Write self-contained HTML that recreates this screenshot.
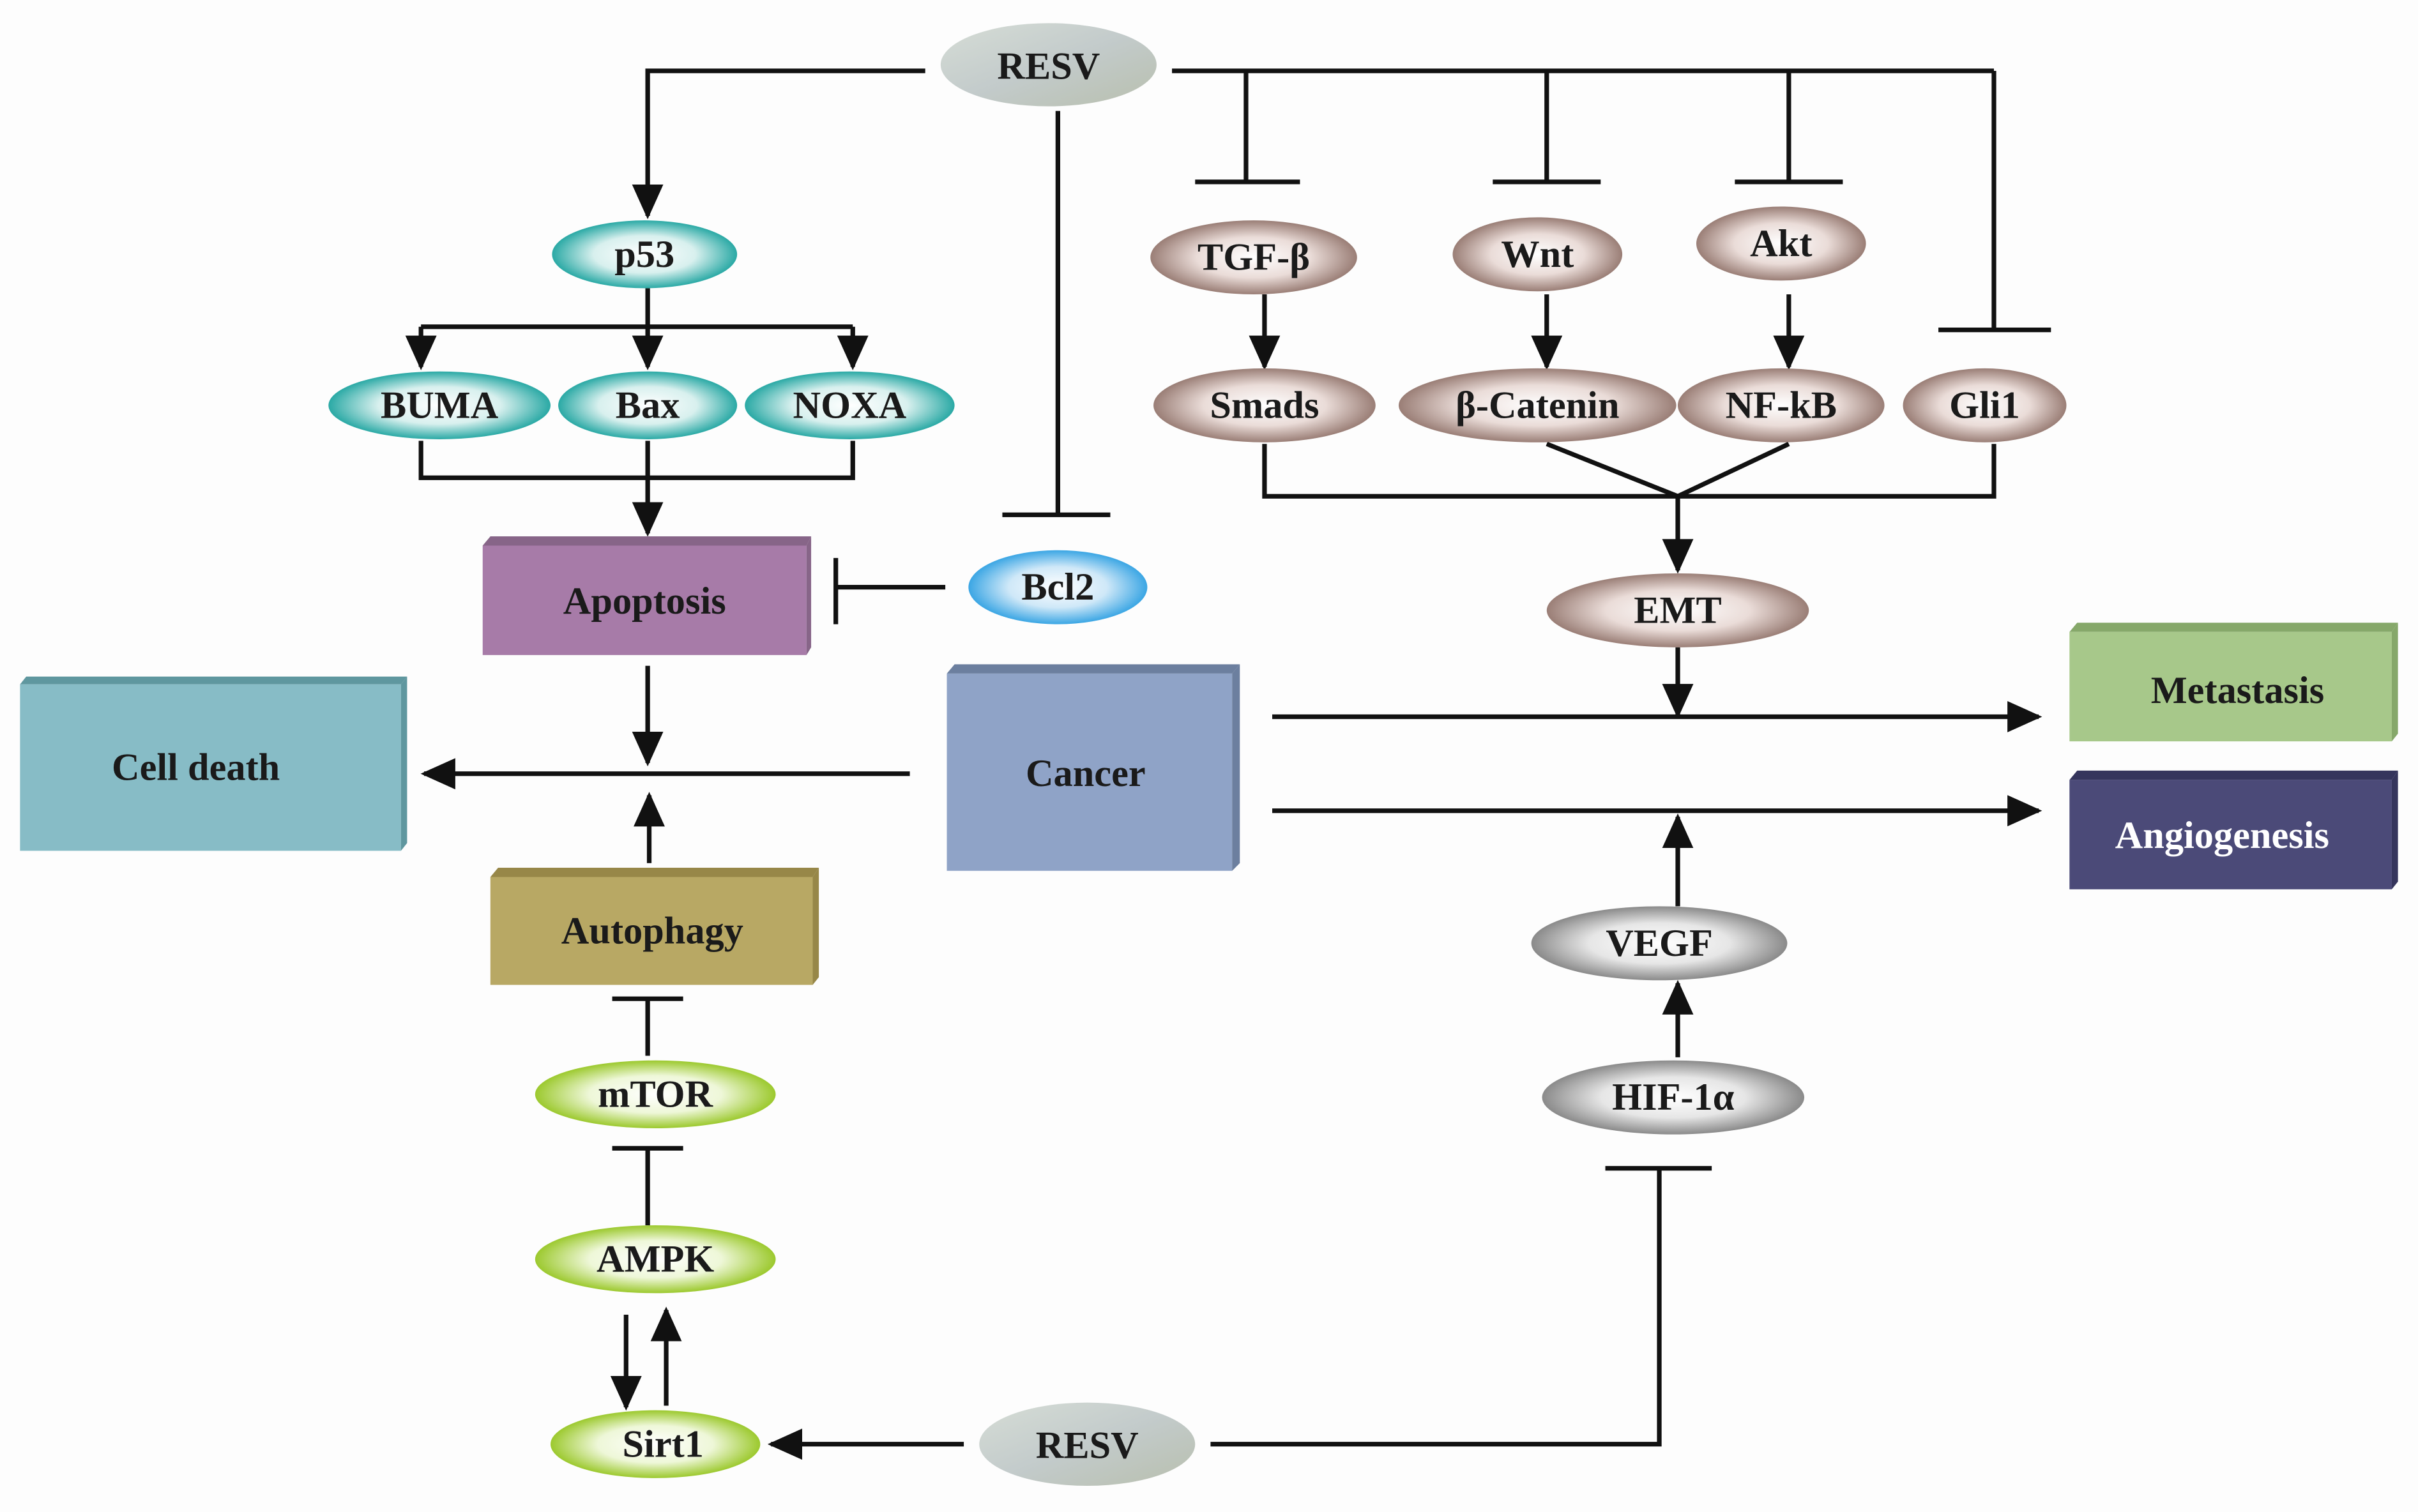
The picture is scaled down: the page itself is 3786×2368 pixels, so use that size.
<!DOCTYPE html>
<html><head><meta charset="utf-8"><style>
html,body{margin:0;padding:0;background:#fdfdfd;}
svg{display:block}
text{font-family:"Liberation Serif",serif;font-weight:bold;font-size:25px;fill:#1a1a1a;text-anchor:middle;dominant-baseline:central;}
</style></head><body>
<svg width="3786" height="2368" viewBox="0 0 1568 981" preserveAspectRatio="none" xmlns="http://www.w3.org/2000/svg">
<defs>
<radialGradient id="teal" cx="50%" cy="50%" r="50%"><stop offset="0" stop-color="#ffffff"/><stop offset="0.55" stop-color="#d8f0ee"/><stop offset="1" stop-color="#2aa9a5"/></radialGradient>
<radialGradient id="brown" cx="50%" cy="50%" r="50%"><stop offset="0" stop-color="#ffffff"/><stop offset="0.55" stop-color="#eadcd8"/><stop offset="1" stop-color="#9a7e76"/></radialGradient>
<radialGradient id="grey" cx="50%" cy="50%" r="50%"><stop offset="0" stop-color="#ffffff"/><stop offset="0.55" stop-color="#e6e6e6"/><stop offset="1" stop-color="#8a8a8a"/></radialGradient>
<radialGradient id="green" cx="50%" cy="50%" r="50%"><stop offset="0" stop-color="#ffffff"/><stop offset="0.55" stop-color="#eef7d8"/><stop offset="1" stop-color="#9cc92e"/></radialGradient>
<radialGradient id="blue" cx="50%" cy="50%" r="50%"><stop offset="0" stop-color="#ffffff"/><stop offset="0.55" stop-color="#cfe8f8"/><stop offset="1" stop-color="#3ba6e4"/></radialGradient>
<linearGradient id="resv" x1="0" y1="0" x2="1" y2="1"><stop offset="0" stop-color="#d6ddd6"/><stop offset="0.5" stop-color="#c3cbcb"/><stop offset="1" stop-color="#b8bfae"/></linearGradient>
<marker id="a" viewBox="0 0 10 10" refX="9" refY="5" markerWidth="7.5" markerHeight="7.5" orient="auto"><path d="M0,0.5 L10,5 L0,9.5z" fill="#111"/></marker>
</defs>
<g stroke="#111" stroke-width="3" fill="none">
<polyline points="600,46 420,46 420,140" marker-end="url(#a)"/>
<line x1="760" y1="46" x2="1293" y2="46"/>
<line x1="1293" y1="46" x2="1293" y2="214"/><line x1="1257" y1="214" x2="1330" y2="214"/>
<line x1="808" y1="46" x2="808" y2="118"/><line x1="775" y1="118" x2="843" y2="118"/>
<line x1="1003" y1="46" x2="1003" y2="118"/><line x1="968" y1="118" x2="1038" y2="118"/>
<line x1="1160" y1="46" x2="1160" y2="118"/><line x1="1125" y1="118" x2="1195" y2="118"/>
<line x1="686" y1="72" x2="686" y2="334"/><line x1="650" y1="334" x2="720" y2="334"/>
<line x1="420" y1="187" x2="420" y2="212"/>
<line x1="273" y1="212" x2="553" y2="212"/>
<line x1="273" y1="212" x2="273" y2="238" marker-end="url(#a)"/>
<line x1="420" y1="212" x2="420" y2="238" marker-end="url(#a)"/>
<line x1="553" y1="212" x2="553" y2="238" marker-end="url(#a)"/>
<polyline points="273,286 273,310 553,310 553,286"/>
<line x1="420" y1="286" x2="420" y2="346" marker-end="url(#a)"/>
<line x1="613" y1="381" x2="542" y2="381"/><line x1="542" y1="362" x2="542" y2="405"/>
<line x1="420" y1="432" x2="420" y2="495" marker-end="url(#a)"/>
<line x1="590" y1="502" x2="275" y2="502" marker-end="url(#a)"/>
<line x1="421" y1="560" x2="421" y2="516" marker-end="url(#a)"/>
<line x1="420" y1="685" x2="420" y2="648"/><line x1="397" y1="648" x2="443" y2="648"/>
<line x1="420" y1="795" x2="420" y2="745"/><line x1="397" y1="745" x2="443" y2="745"/>
<line x1="406" y1="853" x2="406" y2="913" marker-end="url(#a)"/>
<line x1="432" y1="912" x2="432" y2="850" marker-end="url(#a)"/>
<line x1="625" y1="937" x2="500" y2="937" marker-end="url(#a)"/>
<polyline points="785,937 1076,937 1076,758"/><line x1="1041" y1="758" x2="1110" y2="758"/>
<line x1="1088" y1="686" x2="1088" y2="638" marker-end="url(#a)"/>
<line x1="1088" y1="588" x2="1088" y2="530" marker-end="url(#a)"/>
<line x1="825" y1="465" x2="1322" y2="465" marker-end="url(#a)"/>
<line x1="825" y1="526" x2="1322" y2="526" marker-end="url(#a)"/>
<line x1="820" y1="191" x2="820" y2="238" marker-end="url(#a)"/>
<line x1="1003" y1="191" x2="1003" y2="238" marker-end="url(#a)"/>
<line x1="1160" y1="191" x2="1160" y2="238" marker-end="url(#a)"/>
<polyline points="820,288 820,322 1293,322 1293,288"/>
<line x1="1003" y1="288" x2="1088" y2="322"/><line x1="1160" y1="288" x2="1088" y2="322"/>
<line x1="1088" y1="322" x2="1088" y2="370" marker-end="url(#a)"/>
<line x1="1088" y1="420" x2="1088" y2="464" marker-end="url(#a)"/>
</g>
<g>
<polygon points="313,354 318,348 526,348 523,354" fill="#876588"/><rect x="313" y="354" width="210" height="71" fill="#a77ba8"/><polygon points="523,354 526,348 526,420 523,425" fill="#876588"/>
<text x="418" y="390">Apoptosis</text>
<polygon points="13,444 17,439 264,439 260,444" fill="#5f979f"/><rect x="13" y="444" width="247" height="108" fill="#87bcc6"/><polygon points="260,444 264,439 264,547 260,552" fill="#5f979f"/>
<text x="127" y="498">Cell death</text>
<polygon points="614,437 619,431 804,431 799,437" fill="#6c7f9f"/><rect x="614" y="437" width="185" height="128" fill="#8fa3c7"/><polygon points="799,437 804,431 804,560 799,565" fill="#6c7f9f"/>
<text x="704" y="502">Cancer</text>
<polygon points="318,569 323,563 531,563 527,569" fill="#978748"/><rect x="318" y="569" width="209" height="70" fill="#b8a864"/><polygon points="527,569 531,563 531,634 527,639" fill="#978748"/>
<text x="423" y="604">Autophagy</text>
<polygon points="1342,410 1347,404 1555,404 1551,410" fill="#86a86a"/><rect x="1342" y="410" width="209" height="71" fill="#a7c88a"/><polygon points="1551,410 1555,404 1555,476 1551,481" fill="#86a86a"/>
<text x="1451" y="448">Metastasis</text>
<polygon points="1342,506 1347,500 1555,500 1551,506" fill="#35355c"/><rect x="1342" y="506" width="209" height="71" fill="#4b4a78"/><polygon points="1551,506 1555,500 1555,572 1551,577" fill="#35355c"/>
<text x="1441" y="542" style="fill:#fff">Angiogenesis</text>
</g>
<g stroke="none">
<ellipse cx="680" cy="42" rx="70" ry="27" fill="url(#resv)"/><text x="680" y="43">RESV</text>
<ellipse cx="705" cy="937" rx="70" ry="27" fill="url(#resv)"/><text x="705" y="938">RESV</text>
<ellipse cx="418" cy="165" rx="60" ry="22" fill="url(#teal)"/><text x="418" y="165">p53</text>
<ellipse cx="285" cy="263" rx="72" ry="22" fill="url(#teal)"/><text x="285" y="263">BUMA</text>
<ellipse cx="420" cy="263" rx="58" ry="22" fill="url(#teal)"/><text x="420" y="263">Bax</text>
<ellipse cx="551" cy="263" rx="68" ry="22" fill="url(#teal)"/><text x="551" y="263">NOXA</text>
<ellipse cx="686" cy="381" rx="58" ry="24" fill="url(#blue)"/><text x="686" y="381">Bcl2</text>
<ellipse cx="425" cy="710" rx="78" ry="22" fill="url(#green)"/><text x="425" y="710">mTOR</text>
<ellipse cx="425" cy="817" rx="78" ry="22" fill="url(#green)"/><text x="425" y="817">AMPK</text>
<ellipse cx="425" cy="937" rx="68" ry="22" fill="url(#green)"/><text x="430" y="937">Sirt1</text>
<ellipse cx="1085" cy="712" rx="85" ry="24" fill="url(#grey)"/><text x="1085" y="712">HIF-1α</text>
<ellipse cx="1076" cy="612" rx="83" ry="24" fill="url(#grey)"/><text x="1076" y="612">VEGF</text>
<ellipse cx="813" cy="167" rx="67" ry="24" fill="url(#brown)"/><text x="813" y="167">TGF-β</text>
<ellipse cx="997" cy="165" rx="55" ry="24" fill="url(#brown)"/><text x="997" y="165">Wnt</text>
<ellipse cx="1155" cy="158" rx="55" ry="24" fill="url(#brown)"/><text x="1155" y="158">Akt</text>
<ellipse cx="820" cy="263" rx="72" ry="24" fill="url(#brown)"/><text x="820" y="263">Smads</text>
<ellipse cx="997" cy="263" rx="90" ry="24" fill="url(#brown)"/><text x="997" y="263">β-Catenin</text>
<ellipse cx="1155" cy="263" rx="67" ry="24" fill="url(#brown)"/><text x="1155" y="263">NF-kB</text>
<ellipse cx="1287" cy="263" rx="53" ry="24" fill="url(#brown)"/><text x="1287" y="263">Gli1</text>
<ellipse cx="1088" cy="396" rx="85" ry="24" fill="url(#brown)"/><text x="1088" y="396">EMT</text>
</g>
</svg>
</body></html>
